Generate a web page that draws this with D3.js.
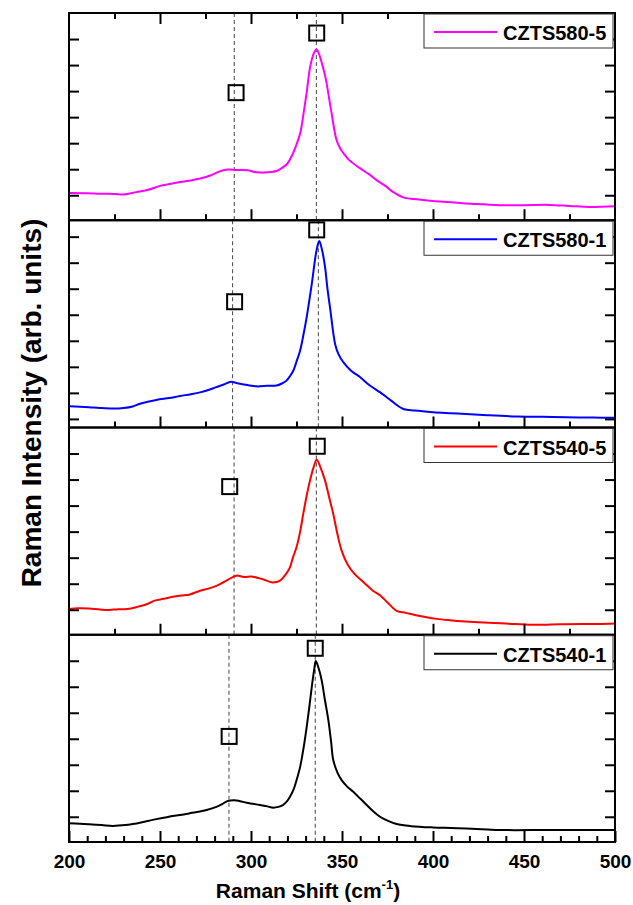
<!DOCTYPE html>
<html>
<head>
<meta charset="utf-8">
<script src="https://cdn.jsdelivr.net/npm/d3@7"></script>
<style>
    body { margin: 0; background: #fff; }
    svg text { font-family: "Liberation Sans", Arial, sans-serif; font-weight: bold; fill: #000; }
</style>
</head>
<body>
<div id="chart"></div>
<script>
// samples, top panel first
const samples = ["CZTS580-5", "CZTS580-1", "CZTS540-5", "CZTS540-1"];
const colors = ["#ff00ff", "#0000ff", "#ff0000", "#000000"];

// Raman shift (cm-1), intensity (arb. units, one unit per y tick)
const czts580_5 = [[200,0.09],[210,0.08],[217,0.06],[225,0.05],[230,0.03],[237,0.12],[244,0.22],[250,0.36],[256,0.44],[261,0.51],[267,0.57],[272,0.64],[278,0.77],[282,0.90],[287,0.99],[292,0.97],[298,0.96],[303,0.88],[309,0.88],[314,0.93],[317,1.05],[320,1.22],[323,1.60],[325,1.95],[327,2.37],[329,3.2],[330.5,3.9],[332.5,4.93],[334.5,5.45],[336,5.6],[337.5,5.4],[339,5.05],[341,4.5],[344,3.27],[347,2.12],[349,1.8],[351,1.6],[354,1.35],[360,1.03],[365,0.80],[369,0.58],[374,0.35],[378,0.13],[384,-0.09],[392,-0.16],[400,-0.22],[410,-0.27],[418,-0.32],[428,-0.35],[437,-0.38],[450,-0.38],[464,-0.37],[475,-0.41],[486,-0.45],[500,-0.42]];
const czts580_1 = [[200,0.49],[206,0.47],[211,0.45],[217,0.42],[224,0.40],[230,0.42],[235,0.48],[239,0.58],[248,0.73],[255,0.80],[261,0.88],[267,0.95],[272,1.02],[277,1.12],[281,1.22],[285,1.32],[289,1.43],[292,1.38],[294,1.35],[298,1.30],[303,1.25],[309,1.27],[314,1.28],[317,1.36],[319.5,1.47],[321.5,1.65],[323.3,1.86],[325,2.2],[327,2.63],[329,3.3],[330.6,3.91],[333.4,5.19],[336,6.47],[337.5,6.83],[339,6.5],[340.7,5.83],[342,5.0],[343.4,4.29],[346.2,2.88],[348,2.5],[350.7,2.18],[355,1.85],[360,1.60],[365,1.3],[371,1.02],[377,0.7],[383.7,0.38],[390,0.32],[400,0.26],[410,0.22],[418,0.19],[430,0.14],[446,0.09],[460,0.08],[473,0.06],[488,0.05],[500,0.04]];
const czts540_5 = [[200,0.03],[205,0.06],[211,0.05],[217,0.01],[222,-0.01],[227,0.02],[232,0.03],[237,0.1],[243,0.22],[247,0.35],[252,0.42],[257,0.50],[262,0.55],[266,0.58],[272,0.73],[277,0.82],[281,0.92],[284,1.02],[287,1.14],[292,1.31],[296,1.26],[301,1.27],[306,1.18],[310,1.08],[312,1.05],[316,1.12],[319,1.35],[321.4,1.63],[323,2.0],[325,2.40],[327,3.0],[328.7,3.68],[330.5,4.35],[332.4,4.96],[334.5,5.5],[336.1,5.76],[338,5.5],[340.7,4.96],[343,4.3],[345.2,3.68],[347.5,2.9],[349.8,2.27],[353,1.75],[357,1.37],[362,1.05],[367,0.73],[371,0.55],[375,0.28],[380,-0.04],[385,-0.12],[390,-0.2],[396.5,-0.29],[402,-0.35],[409,-0.40],[418,-0.45],[427.6,-0.49],[440,-0.53],[455,-0.58],[470,-0.56],[482.6,-0.55],[490,-0.55],[500,-0.53]];
const czts540_1 = [[200,-0.25],[206,-0.27],[211,-0.29],[218,-0.32],[224,-0.35],[231,-0.32],[235,-0.28],[239,-0.23],[244,-0.15],[248,-0.09],[253,-0.03],[257,0.03],[262,0.08],[266,0.13],[271,0.19],[275.6,0.26],[281,0.38],[284,0.48],[287,0.60],[291,0.64],[294,0.60],[297.6,0.54],[301,0.50],[305,0.45],[309,0.40],[312.3,0.35],[315,0.38],[317.5,0.45],[319.6,0.58],[321.5,0.78],[323.3,1.03],[325,1.4],[327,1.92],[329,2.7],[330.6,3.46],[332,4.2],[333.4,5.0],[334.8,5.7],[335.6,5.99],[337,5.75],[338.8,5.26],[340.6,4.5],[342.5,3.72],[344,2.9],[345.2,2.18],[347.5,1.7],[349.8,1.41],[353,1.15],[356.2,0.96],[360,0.7],[363.6,0.45],[367,0.22],[370.9,0.0],[375,-0.15],[380,-0.28],[388,-0.36],[400,-0.41],[410,-0.43],[418.5,-0.45],[430,-0.49],[436.8,-0.51],[464,-0.51],[500,-0.51]];
const spectra = [czts580_5, czts580_1, czts540_5, czts540_1];

// y range of each panel (in tick units) and number of y ticks
const yDomains = [[-0.96, 7.0], [-0.33, 7.63], [-0.96, 7.0], [-0.97, 7.0]];
const yTickCounts = [7, 8, 7, 7];

// peak markers: [shift, intensity] for the weak and the main peak
const weakPeaks = [[291.8, 3.94], [291.0, 4.5], [288.3, 4.73], [288.0, 3.09]];
const mainPeaks = [[336.1, 6.23], [336.1, 7.26], [336.4, 6.28], [335.3, 6.48]];
// dashed guide lines at the peak positions
const guides = [[290.8, 335.9], [289.9, 337.0], [290.7, 335.9], [287.9, 335.3]];

const xTicks = [200, 250, 300, 350, 400, 450, 500];

const width = 633, height = 905;
const margin = { top: 13, right: 18, bottom: 63, left: 69 };
const plotW = width - margin.left - margin.right;
const plotH = height - margin.top - margin.bottom;
const panelH = plotH / samples.length;

const x = d3.scaleLinear().domain([200, 500]).range([0, plotW]);

const svg = d3.select("#chart").append("svg")
    .attr("width", width)
    .attr("height", height);

const g = svg.append("g")
    .attr("transform", "translate(" + margin.left + "," + margin.top + ")");

const line = d3.line().curve(d3.curveCatmullRom.alpha(0.5));

samples.forEach((name, i) => {
    const top = i * panelH;
    const panel = g.append("g").attr("transform", "translate(0," + top + ")");
    const y = d3.scaleLinear().domain(yDomains[i]).range([panelH, 0]);

    // guide lines
    panel.selectAll(".guide")
        .data(guides[i])
        .join("line")
        .attr("x1", d => x(d)).attr("x2", d => x(d))
        .attr("y1", 0).attr("y2", panelH)
        .attr("stroke", "#444")
        .attr("stroke-width", 1)
        .attr("stroke-dasharray", "4,3");

    // spectrum
    panel.append("path")
        .datum(spectra[i])
        .attr("fill", "none")
        .attr("stroke", colors[i])
        .attr("stroke-width", 2)
        .attr("stroke-linejoin", "round")
        .attr("d", line.x(d => x(d[0])).y(d => y(d[1])));

    // peak markers
    panel.selectAll(".mark")
        .data([weakPeaks[i], mainPeaks[i]])
        .join("rect")
        .attr("x", d => x(d[0]) - 7.5)
        .attr("y", d => y(d[1]) - 7.5)
        .attr("width", 15).attr("height", 15)
        .attr("fill", "none")
        .attr("stroke", "#000")
        .attr("stroke-width", 2);

    // y ticks on both sides, pointing in
    const yt = d3.range(yTickCounts[i]);
    panel.append("g").call(d3.axisLeft(y).tickValues(yt).tickSize(-10).tickFormat(""));
    panel.append("g").attr("transform", "translate(" + plotW + ",0)")
        .call(d3.axisRight(y).tickValues(yt).tickSize(-10).tickFormat(""));

    // x ticks
    if (i === 0) {
        panel.append("g").call(d3.axisTop(x).tickValues(d3.range(225, 500, 50)).tickSize(-6).tickFormat(""));
        panel.append("g").call(d3.axisTop(x).tickValues(d3.range(250, 500, 50)).tickSize(-11).tickFormat(""));
    }
    const bottom = panel.append("g").attr("transform", "translate(0," + panelH + ")");
    if (i < samples.length - 1) {
        bottom.append("g").call(d3.axisBottom(x).tickValues(d3.range(225, 500, 50)).tickSize(-6).tickFormat(""));
        bottom.append("g").call(d3.axisBottom(x).tickValues(d3.range(250, 500, 50)).tickSize(-11).tickFormat(""));
    } else {
        bottom.append("g").call(d3.axisBottom(x).tickValues(d3.range(210, 500, 10).filter(v => v % 50 !== 0)).tickSize(-6).tickFormat(""));
        bottom.append("g").call(d3.axisBottom(x).tickValues(xTicks).tickSize(-11).tickPadding(13).tickFormat(d3.format("d")))
            .selectAll("text")
            .style("font-size", "19px");
    }

    panel.selectAll(".domain").remove();
    panel.selectAll(".tick line").attr("stroke", "#000").attr("stroke-width", 2);

    // frame
    panel.append("rect")
        .attr("width", plotW).attr("height", panelH)
        .attr("fill", "none")
        .attr("stroke", "#000")
        .attr("stroke-width", 2);

    // legend
    const leg = panel.append("g").attr("transform", "translate(" + (plotW - 191) + ",1)");
    leg.append("rect")
        .attr("width", 189).attr("height", 34)
        .attr("fill", "#fff")
        .attr("stroke", "#333")
        .attr("stroke-width", 1);
    leg.append("line")
        .attr("x1", 10).attr("x2", 73)
        .attr("y1", 18).attr("y2", 18)
        .attr("stroke", colors[i])
        .attr("stroke-width", 2);
    leg.append("text")
        .attr("x", 79).attr("y", 26)
        .style("font-size", "20px")
        .text(name);
});

// axis titles
svg.append("text")
    .attr("transform", "translate(41,403) rotate(-90)")
    .attr("text-anchor", "middle")
    .style("font-size", "28px")
    .text("Raman Intensity (arb. units)");

const xt = svg.append("text")
    .attr("x", 308).attr("y", 898)
    .attr("text-anchor", "middle")
    .style("font-size", "21px");
xt.append("tspan").text("Raman Shift (cm");
xt.append("tspan").attr("dy", -9).style("font-size", "13px").text("-1");
xt.append("tspan").attr("dy", 9).text(")");
</script>
</body>
</html>
